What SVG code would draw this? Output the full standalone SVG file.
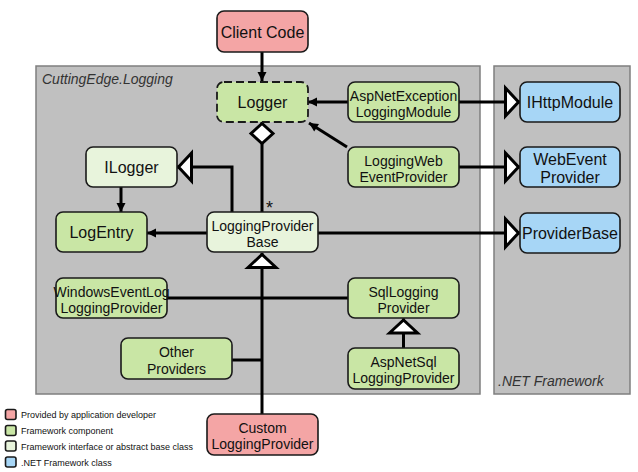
<svg xmlns="http://www.w3.org/2000/svg" width="638" height="472" viewBox="0 0 638 472">
<defs>
<style>
text{font-family:"Liberation Sans",Arial,sans-serif;fill:#111}
.n{stroke:#1a1a1a;stroke-width:1.6}
.pink{fill:#F4A5A5}
.green{fill:#C9E6A5}
.light{fill:#E8F4DC}
.blue{fill:#A7D6F6}
.t16{font-size:16px;text-anchor:middle}
.t14{font-size:14px;text-anchor:middle}
.cont{fill:#C0C0C0;stroke:#7f7f7f;stroke-width:1.5}
.clab{font-size:14px;font-style:italic;fill:#333}
.lg{font-size:9px;fill:#111}
.c{fill:none;stroke:#000;stroke-width:3}
</style>
<marker id="arrow" markerUnits="userSpaceOnUse" viewBox="-10 -6 12 12" refX="0" refY="0" markerWidth="12" markerHeight="12" orient="auto" overflow="visible">
<path d="M-9,-4.5 L0,0 L-9,4.5 z" fill="#000"/>
</marker>
<marker id="tri" markerUnits="userSpaceOnUse" viewBox="-18 -17 20 34" refX="0" refY="0" markerWidth="20" markerHeight="34" orient="auto" overflow="visible">
<path d="M-14.5,-14 L-1.5,0 L-14.5,14 z" fill="#fff" stroke="#000" stroke-width="3"/>
</marker>
<marker id="dia" markerUnits="userSpaceOnUse" viewBox="-26 -14 28 28" refX="0" refY="0" markerWidth="28" markerHeight="28" orient="auto" overflow="visible">
<path d="M-1.5,0 L-11.5,-11 L-21.5,0 L-11.5,11 z" fill="#fff" stroke="#000" stroke-width="3"/>
</marker>
</defs>
<rect width="638" height="472" fill="#fff"/>
<g id="containers">
<rect class="cont" x="36" y="66" width="444" height="328"/>
<text class="clab" x="42" y="84">CuttingEdge.Logging</text>
<rect class="cont" x="494" y="66" width="136" height="328"/>
<text class="clab" x="498" y="386">.NET Framework</text>
</g>
<g id="connectors">
<path class="c" d="M262,52 L262,81" marker-end="url(#arrow)"/>
<path class="c" d="M348,102 L308,102" marker-end="url(#arrow)"/>
<path class="c" d="M347,147 L309,123" marker-end="url(#arrow)"/>
<path class="c" d="M459,102 L520,102" marker-end="url(#tri)"/>
<path class="c" d="M459,167 L520,167" marker-end="url(#tri)"/>
<path class="c" d="M318,233 L520,233" marker-end="url(#tri)"/>
<path class="c" d="M207,233 L147,233" marker-end="url(#arrow)"/>
<path class="c" d="M121,187 L121,212" marker-end="url(#arrow)"/>
<path class="c" d="M232,212 L232,167 L177,167" marker-end="url(#tri)"/>
<path class="c" d="M262,212 L262,122" marker-end="url(#dia)"/>
<path class="c" d="M167,298 L348,298"/>
<path class="c" d="M232,360 L262,360"/>
<path class="c" d="M262,414 L262,253" marker-end="url(#tri)"/>
<path class="c" d="M403.5,348 L403.5,318.5" marker-end="url(#tri)"/>
<text x="266" y="214" style="font-size:18px">*</text>
</g>
<g id="client-code">
<rect class="n pink" x="217" y="11" width="91" height="41" rx="7"/>
<text class="t16" x="262.5" y="37.5">Client Code</text>
</g>
<g id="logger">
<rect class="green" x="217" y="82" width="91" height="40" rx="7" stroke="#1a1a1a" stroke-width="1.8" stroke-dasharray="8,4"/>
<text class="t16" x="262.5" y="108">Logger</text>
</g>
<g id="ilogger">
<rect class="n light" x="86" y="147" width="91" height="40" rx="7"/>
<text class="t16" x="131.5" y="173">ILogger</text>
</g>
<g id="logentry">
<rect class="n green" x="56" y="212" width="91" height="40" rx="7"/>
<text class="t16" x="101.5" y="238">LogEntry</text>
</g>
<g id="logging-provider-base">
<rect class="n light" x="207" y="212" width="111" height="40" rx="7"/>
<text class="t14" x="262.5" y="230.5">LoggingProvider</text>
<text class="t14" x="262.5" y="246.5">Base</text>
</g>
<g id="aspnet-exception-logging-module">
<rect class="n green" x="348" y="82" width="111" height="40" rx="7"/>
<text class="t14" x="403.5" y="100.5">AspNetException</text>
<text class="t14" x="403.5" y="116.5">LoggingModule</text>
</g>
<g id="logging-web-event-provider">
<rect class="n green" x="348" y="147" width="111" height="40" rx="7"/>
<text class="t14" x="403.5" y="165.5">LoggingWeb</text>
<text class="t14" x="403.5" y="181.5">EventProvider</text>
</g>
<g id="windows-event-log-logging-provider">
<rect class="n green" x="56" y="278" width="111" height="40" rx="7"/>
<text class="t14" x="111.5" y="296.5">WindowsEventLog</text>
<text class="t14" x="111.5" y="312.5">LoggingProvider</text>
</g>
<g id="sql-logging-provider">
<rect class="n green" x="348" y="278" width="111" height="40" rx="7"/>
<text class="t14" x="403.5" y="296.5">SqlLogging</text>
<text class="t14" x="403.5" y="312.5">Provider</text>
</g>
<g id="other-providers">
<rect class="n green" x="121" y="338" width="111" height="41" rx="7"/>
<text class="t14" x="176.5" y="356.5">Other</text>
<text class="t14" x="176.5" y="373.5">Providers</text>
</g>
<g id="aspnet-sql-logging-provider">
<rect class="n green" x="348" y="348" width="111" height="41" rx="7"/>
<text class="t14" x="403.5" y="366.5">AspNetSql</text>
<text class="t14" x="403.5" y="383">LoggingProvider</text>
</g>
<g id="custom-logging-provider">
<rect class="n pink" x="207" y="414" width="111" height="41" rx="7"/>
<text class="t14" x="262.5" y="432.5">Custom</text>
<text class="t14" x="262.5" y="449">LoggingProvider</text>
</g>
<g id="ihttpmodule">
<rect class="n blue" x="520" y="82" width="100" height="40" rx="7"/>
<text class="t16" x="570" y="108">IHttpModule</text>
</g>
<g id="web-event-provider">
<rect class="n blue" x="520" y="147" width="100" height="40" rx="7"/>
<text class="t16" x="570" y="165">WebEvent</text>
<text class="t16" x="570" y="183">Provider</text>
</g>
<g id="provider-base">
<rect class="n blue" x="520" y="213" width="100" height="40" rx="7"/>
<text class="t16" x="570" y="239">ProviderBase</text>
</g>
<g id="legend">
<rect class="n pink" x="5.5" y="409.5" width="10.5" height="10" rx="2"/>
<text class="lg" x="21" y="418">Provided by application developer</text>
<rect class="n green" x="5.5" y="425.5" width="10.5" height="10" rx="2"/>
<text class="lg" x="21" y="434">Framework component</text>
<rect class="n light" x="5.5" y="441" width="10.5" height="10" rx="2"/>
<text class="lg" x="21" y="449.5">Framework interface or abstract base class</text>
<rect class="n blue" x="5.5" y="457" width="10.5" height="10" rx="2"/>
<text class="lg" x="21" y="465.5">.NET Framework class</text>
</g>
</svg>
